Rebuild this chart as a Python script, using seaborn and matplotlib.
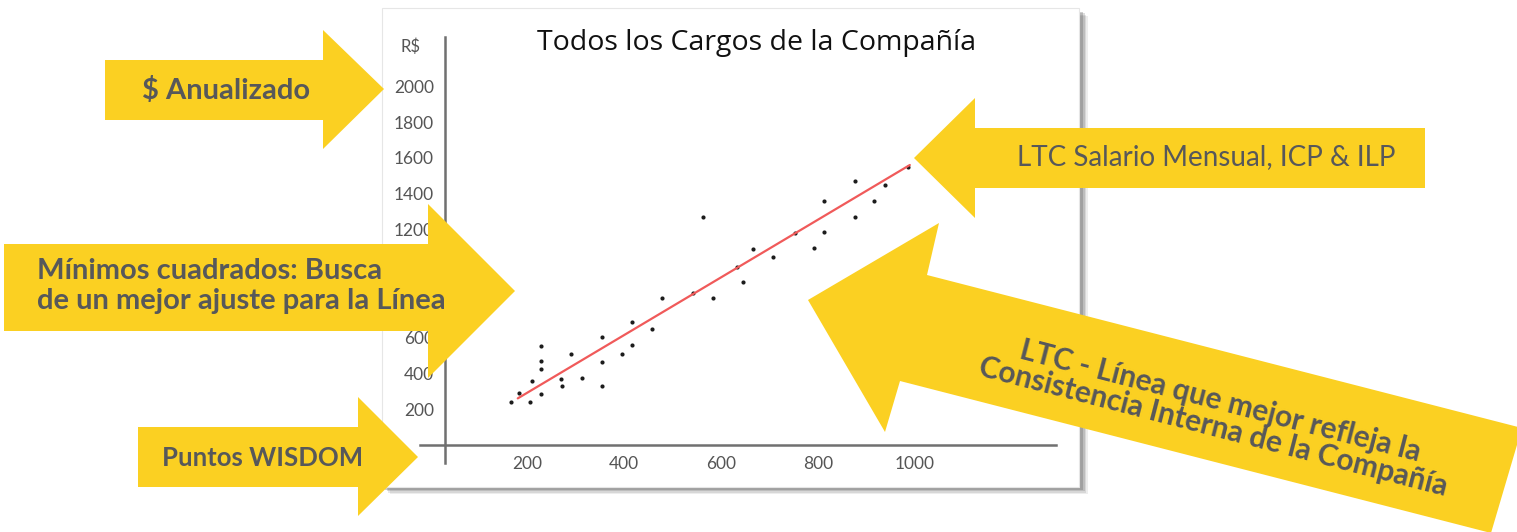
import matplotlib
matplotlib.use("Agg")
import matplotlib.pyplot as plt
import seaborn as sns
from matplotlib.patches import Polygon, Rectangle

sns.set_theme(style="white")
plt.rcParams["font.family"] = ["Lato", "DejaVu Sans"]

# --- data ---
# job points (x = WISDOM points, y = annualized R$)
cargo_x = [166, 183, 206, 210, 227, 227, 227, 227, 270, 272, 290, 312,
           353, 353, 353, 395, 416, 416, 458, 479, 541, 562, 583, 633,
           645, 666, 708, 752, 791, 812, 812, 876, 876, 916, 938, 986]
cargo_y = [242, 289, 242, 359, 284, 424, 471, 554, 370, 330, 508, 373,
           603, 462, 330, 508, 688, 558, 649, 820, 850, 1274, 820, 993,
           911, 1091, 1050, 1182, 1099, 1360, 1189, 1470, 1273, 1360, 1451, 1552]

# least squares line as drawn (end points)
fit_x = [180, 990]
fit_y = [261, 1561]

x_ticks = [200, 400, 600, 800, 1000]
y_ticks = [200, 400, 600, 800, 1000, 1200, 1400, 1600, 1800, 2000]
# 800 and 1000 sit fully under the call-out arrow in the picture
y_tick_labels = ["200", "400", "600", "", "", "1200", "1400", "1600", "1800", "2000"]

title = "Todos los Cargos de la Compañía"
y_unit = "R$"

note_annual = "$ Anualizado"
note_lsq = "Mínimos cuadrados: Busca\nde un mejor ajuste para la Línea"
note_points = "Puntos WISDOM"
note_ltc = "LTC Salario Mensual, ICP & ILP"
note_line = "LTC - Línea que mejor refleja la\nConsistencia Interna de la Compañía"

YELLOW = "#FBD022"
NOTE_GREY = "#57585a"
AXIS_GREY = "#707070"

W, H = 1517, 532
fig = plt.figure(figsize=(W / 100, H / 100), dpi=100)
fig.patch.set_facecolor("white")

# background layer in pixel coords: panel with soft shadow
bg = fig.add_axes([0, 0, 1, 1], zorder=0)
bg.set_xlim(0, W)
bg.set_ylim(H, 0)
bg.axis("off")
for k, a in enumerate([0.10, 0.14, 0.20, 0.28]):
    off = 7 - k * 1.5
    bg.add_patch(Rectangle((386 + off - 3, 12 + off - 3), 696 + 2, 476 + 2,
                           facecolor="#555555", alpha=a, lw=0))
bg.add_patch(Rectangle((382, 8), 697, 479, facecolor="white",
                       edgecolor="#e6e6e6", lw=0.8))
bg.text(757, 43, title, ha="center", va="center", fontsize=20.5,
        color="#111111", family=["Open Sans", "DejaVu Sans"])
bg.text(411, 47, y_unit, ha="center", va="center", fontsize=12,
        color="#555555")

# chart
ax = fig.add_axes([420 / W, (H - 463) / H, 636 / W, 426 / H], zorder=1)
ax.patch.set_visible(False)
sns.lineplot(x=fit_x, y=fit_y, ax=ax, color="#f05a5a", linewidth=1.6)
sns.scatterplot(x=cargo_x, y=cargo_y, ax=ax, s=9, color="#1c1c1c",
                linewidth=0)
ax.set_xlim(-22, 1292)
ax.set_ylim(-99, 2274)
ax.spines["top"].set_visible(False)
ax.spines["right"].set_visible(False)
ax.spines["bottom"].set_position(("data", 0))
ax.spines["left"].set_position(("data", 30))
for s in ["bottom", "left"]:
    ax.spines[s].set_color(AXIS_GREY)
    ax.spines[s].set_linewidth(1.8)
ax.set_xticks(x_ticks)
ax.set_yticks(y_ticks)
ax.set_yticklabels(y_tick_labels)
ax.tick_params(axis="x", direction="inout", length=7, width=1.6,
               color=AXIS_GREY, labelsize=12.5, labelcolor="#555555", pad=4)
ax.tick_params(axis="y", length=0, labelsize=12.5, labelcolor="#555555", pad=8)

# overlay: call-out arrows
ov = fig.add_axes([0, 0, 1, 1], zorder=2)
ov.set_xlim(0, W)
ov.set_ylim(H, 0)
ov.axis("off")
ov.patch.set_visible(False)

arrows = {
    "annual": [(105, 60), (323, 60), (323, 30), (384, 89), (323, 149),
               (323, 120), (105, 120)],
    "lsq": [(4, 244), (428, 244), (428, 204), (515, 291), (428, 378),
            (428, 331), (4, 331)],
    "points": [(138, 427), (358, 427), (358, 397), (418, 457), (358, 516),
               (358, 487), (138, 487)],
    "ltc": [(1425, 128), (975, 128), (975, 98), (914, 158), (975, 218),
            (975, 188), (1425, 188)],
    "line": [(808, 300), (939, 223), (927, 275), (1522, 428), (1491, 533),
             (900, 381), (885, 432)],
}
for pts in arrows.values():
    ov.add_patch(Polygon(pts, closed=True, facecolor=YELLOW, lw=0))

bold = dict(color=NOTE_GREY, fontweight="bold", family=["Lato", "DejaVu Sans"])
ov.text(226, 90, note_annual, ha="center", va="center", fontsize=21, **bold)
ov.text(37, 286, note_lsq, ha="left", va="center", fontsize=21,
        linespacing=1.15, **bold)
ov.text(263, 458, note_points, ha="center", va="center", fontsize=18.5, **bold)
ov.text(1206, 157, note_ltc, ha="center", va="center", fontsize=20,
        color=NOTE_GREY, family=["Liberation Sans Narrow", "Lato"])
ov.text(1217, 414, note_line, ha="center", va="center", fontsize=21.5,
        rotation=-14.5, rotation_mode="anchor", multialignment="center",
        linespacing=0.95, **bold)

fig.savefig("out.png", dpi=100)
